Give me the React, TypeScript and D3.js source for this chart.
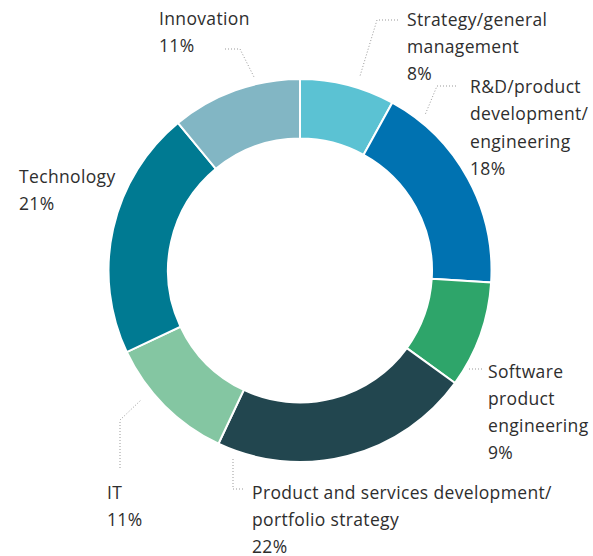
import React from "react";
import * as d3 from "d3";

const categories = [
  "Strategy/general management",
  "R&D/product development/engineering",
  "Software product engineering",
  "Product and services development/portfolio strategy",
  "IT",
  "Technology",
  "Innovation",
];
const values = [8, 18, 9, 22, 11, 21, 11];
const colors = ["#5bc2d3", "#0072b1", "#2ea56a", "#22464f", "#84c6a2", "#007a92", "#82b6c4"];
const labelLines = [
  ["Strategy/general", "management", "8%"],
  ["R&D/product", "development/", "engineering", "18%"],
  ["Software", "product", "engineering", "9%"],
  ["Product and services development/", "portfolio strategy", "22%"],
  ["IT", "11%"],
  ["Technology", "21%"],
  ["Innovation", "11%"],
];

// layout: label anchor (x, first baseline) and leader polylines
const labelPos: [number, number][] = [
  [407, 25.5],
  [470, 93],
  [488, 377.5],
  [252, 498.5],
  [107, 498.5],
  [19, 182.5],
  [159, 25],
];
const leaders: [number, number][][] = [
  [[398, 20], [377, 20], [360, 76]],
  [[456, 86], [437, 86], [425, 115]],
  [[482, 369], [469, 369]],
  [[243, 489], [233, 489], [233, 458]],
  [[120, 468], [120, 420], [141, 400]],
  [],
  [[225, 49], [240, 49], [254, 77]],
];

const W = 593, H = 556;
const cx = 300, cy = 270.5;
const rOuter = 191.5, rInner = 132;
const lineH = 27.3;

export default function App() {
  const pie = d3.pie<number>().sort(null).value((d) => d)(values);
  const arc = d3.arc<d3.PieArcDatum<number>>().innerRadius(rInner).outerRadius(rOuter);
  const line = d3.line();
  return (
    <svg width={W} height={H} style={{ position: "absolute", left: 0, top: 0 }}
      fontFamily="'Open Sans', sans-serif">
      <rect width={W} height={H} fill="#fff" />
      <g transform={`translate(${cx},${cy})`}>
        {pie.map((p, i) => (
          <path key={i} d={arc(p) || ""} fill={colors[i]} stroke="#fff" strokeWidth={2}>
            <title>{categories[i]}</title>
          </path>
        ))}
      </g>
      {leaders.map((pts, i) =>
        pts.length ? (
          <path key={i} d={line(pts) || ""} fill="none" stroke="#999" strokeWidth={1}
            strokeDasharray="1,2" />
        ) : null
      )}
      {labelLines.map((lines, i) => (
        <text key={i} x={labelPos[i][0]} y={labelPos[i][1]} fontSize={17.5}
          letterSpacing={0.35} fill="#2e2e2e">
          {lines.map((l, j) => (
            <tspan key={j} x={labelPos[i][0]} dy={j === 0 ? 0 : lineH}>{l}</tspan>
          ))}
        </text>
      ))}
    </svg>
  );
}
